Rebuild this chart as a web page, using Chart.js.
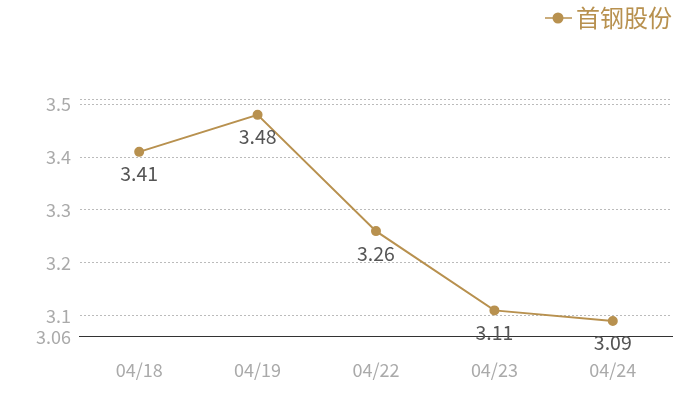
<!DOCTYPE html>
<html>
<head>
<meta charset="utf-8">
<script src="https://cdn.jsdelivr.net/npm/chart.js@4"></script>
<style>
  body { margin: 0; background: #fff; }
  #wrap { width: 700px; height: 400px; }
</style>
</head>
<body>
<div id="wrap"><canvas id="mychart"></canvas></div>
<script>
const labels = ['04/18', '04/19', '04/22', '04/23', '04/24'];
const prices = [3.41, 3.48, 3.26, 3.11, 3.09];
const yTicks = [3.06, 3.1, 3.2, 3.3, 3.4, 3.5, 3.51];
const seriesName = '首钢股份';

const gold = '#b8914f';
const fontFamily = '"Noto Sans CJK SC", "Noto Sans", sans-serif';

// draw value under each point
const valueLabels = {
  id: 'valueLabels',
  afterDatasetsDraw(chart) {
    const ctx = chart.ctx;
    const meta = chart.getDatasetMeta(0);
    ctx.save();
    ctx.font = '19.5px ' + fontFamily;
    ctx.fillStyle = '#555';
    ctx.textAlign = 'center';
    ctx.textBaseline = 'middle';
    meta.data.forEach((pt, i) => {
      ctx.fillText(prices[i].toFixed(2), pt.x, pt.y + 22);
    });
    ctx.restore();
  }
};

// extra room under the legend + line-and-dot marker
const legendTweak = {
  id: 'legendTweak',
  beforeInit(chart) {
    const fit = chart.legend.fit;
    chart.legend.fit = function () {
      fit.call(this);
      this.height += 59;
    };
  },
  afterDraw(chart) {
    const lg = chart.legend;
    if (!lg || !lg.legendHitBoxes) return;
    const ctx = chart.ctx;
    lg.legendHitBoxes.forEach(b => {
      const cy = b.top + b.height / 2;
      ctx.save();
      ctx.fillStyle = '#fff';
      ctx.fillRect(b.left - 1, cy - 7, 30, 14);
      ctx.strokeStyle = gold;
      ctx.lineWidth = 1.5;
      ctx.beginPath();
      ctx.moveTo(b.left + 1, cy);
      ctx.lineTo(b.left + 28, cy);
      ctx.stroke();
      ctx.fillStyle = gold;
      ctx.beginPath();
      ctx.arc(b.left + 14, cy, 5.5, 0, Math.PI * 2);
      ctx.fill();
      ctx.restore();
    });
  }
};

new Chart(document.getElementById('mychart'), {
  type: 'line',
  data: {
    labels: labels,
    datasets: [{
      label: seriesName,
      data: prices,
      borderColor: gold,
      backgroundColor: gold,
      borderWidth: 2,
      pointRadius: 4,
      pointHoverRadius: 4,
      tension: 0
    }]
  },
  plugins: [valueLabels, legendTweak],
  options: {
    responsive: true,
    maintainAspectRatio: false,
    animation: false,
    layout: { padding: { left: 27, right: 28, top: 6, bottom: -3 } },
    plugins: {
      tooltip: { enabled: false },
      legend: {
        position: 'top',
        align: 'end',
        labels: {
          color: gold,
          font: { size: 24, family: fontFamily },
          boxWidth: 20,
          boxHeight: 10,
          padding: 0
        }
      }
    },
    scales: {
      x: {
        offset: true,
        grid: { display: false, drawTicks: false },
        border: { display: true, color: '#333', width: 1 },
        ticks: {
          color: '#aaa',
          padding: 25,
          font: { size: 18, family: fontFamily, lineHeight: 0.9 }
        }
      },
      y: {
        min: 3.06,
        max: 3.51,
        afterBuildTicks(axis) {
          axis.ticks = yTicks.map(v => ({ value: v }));
        },
        grid: {
          color: '#bbb',
          drawTicks: false
        },
        border: { display: false, dash: [2, 2] },
        ticks: {
          color: '#aaa',
          padding: 9,
          font: { size: 18, family: fontFamily },
          callback(v) {
            if (v === 3.51) return '';
            return String(+v.toFixed(2));
          }
        }
      }
    }
  }
});
</script>
</body>
</html>
